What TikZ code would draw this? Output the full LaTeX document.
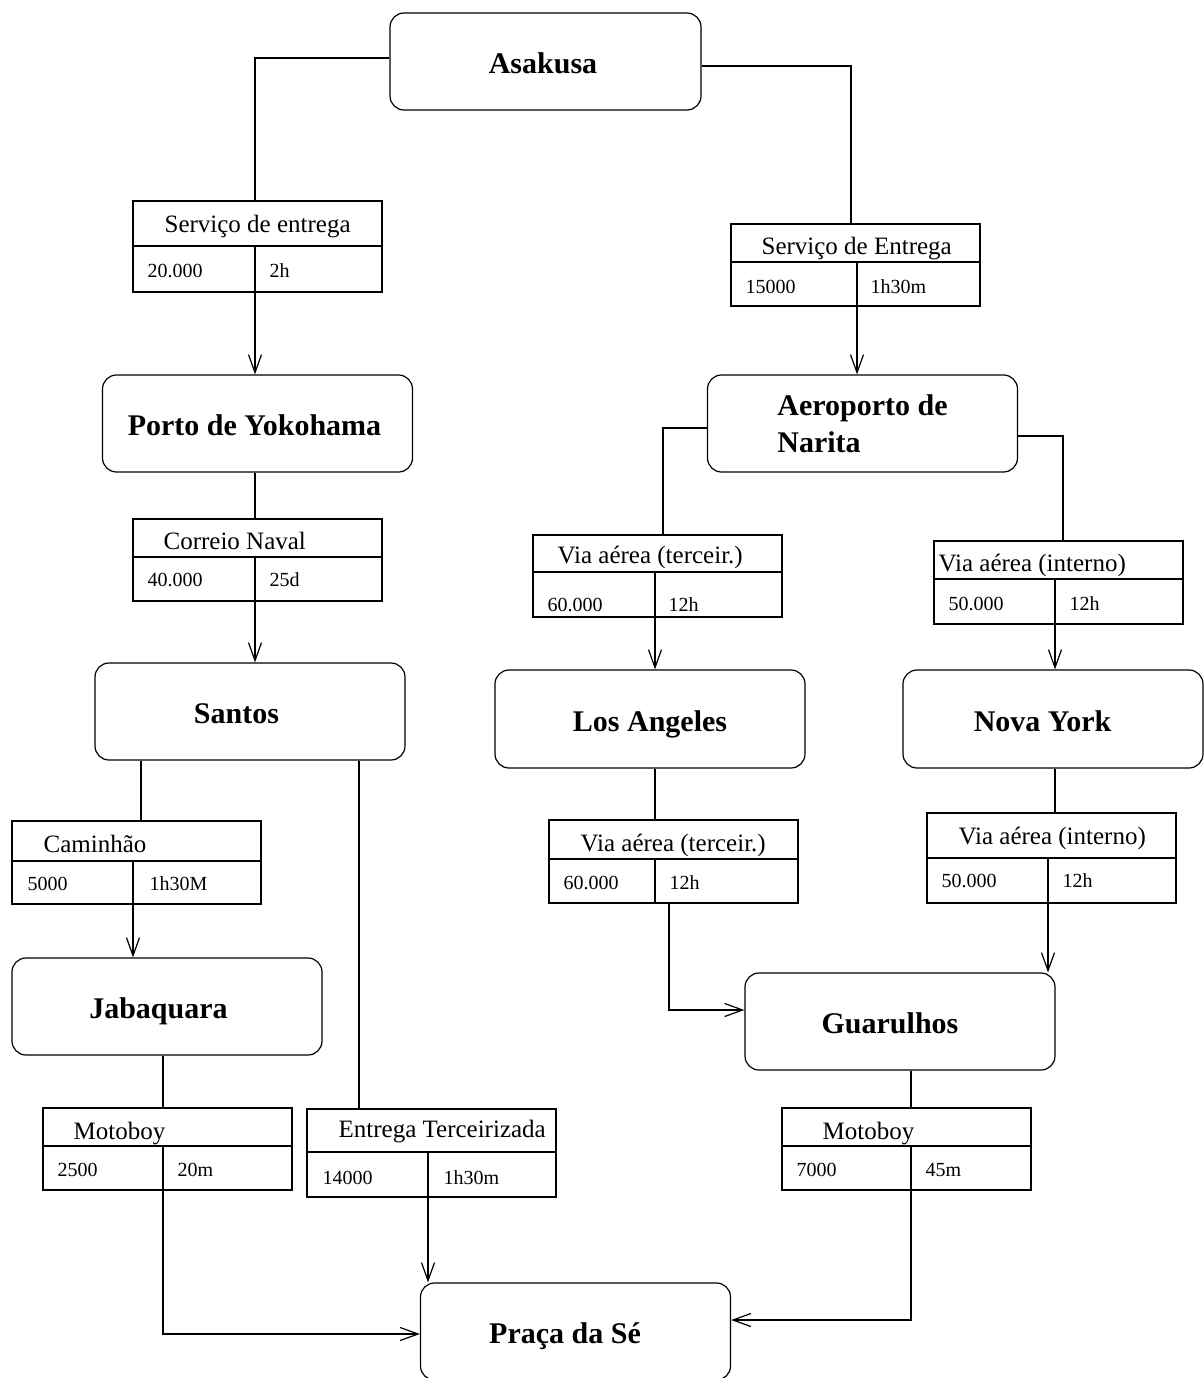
\documentclass[tikz,border=0pt]{standalone}
\usepackage{fontspec}
\setmainfont{Liberation Serif}
\usetikzlibrary{arrows.meta,calc}

\tikzset{
  place/.style={draw, rounded corners=14pt, minimum width=310pt, minimum height=97pt,
    inner sep=0pt, font=\bfseries\fontsize{30}{37}\selectfont, text height=24pt, text depth=0pt},
  tabbox/.style={draw, minimum width=249pt, inner sep=0pt},
  headtxt/.style={anchor=base west, inner sep=0pt, font=\fontsize{25}{30}\selectfont},
  valtxt/.style={anchor=base west, inner sep=0pt, font=\fontsize{20}{24}\selectfont},
  flow/.style={-{Straight Barb[length=18pt,width=13pt]}},
}

% box of a delivery leg: name, left, top, split, bottom, divider
\newcommand{\legbox}[6]{%
  \pgfmathsetmacro\legcx{#2+124.5}%
  \pgfmathsetmacro\legcy{(#3+#5)/2}%
  \pgfmathsetmacro\legh{#5-#3}%
  \node[tabbox, minimum height=\legh pt] (#1) at (\legcx,\legcy) {};
  \draw (#2,#4) -- (#2+249,#4);
  \draw (#6,#4) -- (#6,#5);
}

\begin{document}
\begin{tikzpicture}[x=1pt, y=-1pt, line width=1.2pt]
\useasboundingbox (0,0) rectangle (1204,1378);
\clip (0,0) rectangle (1204,1378);

% places
\node[place, minimum width=311pt] (asakusa) at (545.5,61.5) {\kern-5pt Asakusa};
\node[place] (porto) at (257.5,423.5) {\kern-6pt Porto de Yokohama};
\node[place, align=left, text height=57pt] (narita) at (862.5,423.5) {Aeroporto de\\Narita};
\node[place] (santos) at (250,711.5) {\kern-27pt Santos};
\node[place, minimum height=98pt] (la) at (650,719) {Los Angeles};
\node[place, minimum width=300pt, minimum height=98pt] (ny) at (1053,719) {\kern-21pt Nova York};
\node[place] (jab) at (167,1006.5) {\kern-17pt Jabaquara};
\node[place] (gua) at (900,1021.5) {\kern-20pt Guarulhos};
\node[place] (praca) at (575.5,1331.5) {\kern-21pt Praça da Sé};

% delivery legs
\legbox{t1}{133}{201}{246}{292}{255}
\node[headtxt] (t1-head) at (164,232) {Serviço de entrega};
\node[valtxt] (t1-cost) at (147,277) {20.000};
\node[valtxt] (t1-time) at (269,277) {2h};

\legbox{t2}{731}{224}{262}{306}{857}
\node[headtxt] (t2-head) at (761,254) {Serviço de Entrega};
\node[valtxt] (t2-cost) at (745,293) {15000};
\node[valtxt] (t2-time) at (870,293) {1h30m};

\legbox{t3}{133}{519}{557}{601}{255}
\node[headtxt] (t3-head) at (163,549) {Correio Naval};
\node[valtxt] (t3-cost) at (147,586) {40.000};
\node[valtxt] (t3-time) at (269,586) {25d};

\legbox{t4}{533}{535}{572}{617}{655}
\node[headtxt] (t4-head) at (557,563) {Via aérea (terceir.)};
\node[valtxt] (t4-cost) at (547,611) {60.000};
\node[valtxt] (t4-time) at (668,611) {12h};

\legbox{t5}{934}{541}{579}{624}{1055}
\node[headtxt] (t5-head) at (938,571) {Via aérea (interno)};
\node[valtxt] (t5-cost) at (948,610) {50.000};
\node[valtxt] (t5-time) at (1069,610) {12h};

\legbox{t6}{12}{821}{861}{904}{133}
\node[headtxt] (t6-head) at (43,852) {Caminhão};
\node[valtxt] (t6-cost) at (27,890) {5000};
\node[valtxt] (t6-time) at (149,890) {1h30M};

\legbox{t7}{549}{820}{859}{903}{655}
\node[headtxt] (t7-head) at (580,851) {Via aérea (terceir.)};
\node[valtxt] (t7-cost) at (563,889) {60.000};
\node[valtxt] (t7-time) at (669,889) {12h};

\legbox{t8}{927}{813}{858}{903}{1048}
\node[headtxt] (t8-head) at (958,844) {Via aérea (interno)};
\node[valtxt] (t8-cost) at (941,887) {50.000};
\node[valtxt] (t8-time) at (1062,887) {12h};

\legbox{t9}{43}{1108}{1146}{1190}{163}
\node[headtxt] (t9-head) at (73,1139) {Motoboy};
\node[valtxt] (t9-cost) at (57,1176) {2500};
\node[valtxt] (t9-time) at (177,1176) {20m};

\legbox{t10}{307}{1109}{1152}{1197}{428}
\node[headtxt] (t10-head) at (338,1137) {Entrega Terceirizada};
\node[valtxt] (t10-cost) at (322,1184) {14000};
\node[valtxt] (t10-time) at (443,1184) {1h30m};

\legbox{t11}{782}{1108}{1146}{1190}{911}
\node[headtxt] (t11-head) at (822,1139) {Motoboy};
\node[valtxt] (t11-cost) at (796,1176) {7000};
\node[valtxt] (t11-time) at (925,1176) {45m};

% connections
\draw ($(asakusa.west)+(0,-3.5)$) -| ($(t1.north)+(-2.5,0)$);
\draw[flow] ($(t1.south)+(-2.5,0)$) -- ($(porto.north)+(-2.5,0)$);
\draw ($(asakusa.east)+(0,4.5)$) -| ($(t2.north)+(-4.5,0)$);
\draw[flow] ($(t2.south)+(1.5,0)$) -- ($(narita.north)+(-5.5,0)$);

\draw ($(porto.south)+(-2.5,0)$) -- ($(t3.north)+(-2.5,0)$);
\draw[flow] ($(t3.south)+(-2.5,0)$) -- ($(santos.north)+(5,0)$);

\draw ($(narita.west)+(0,4.5)$) -| ($(t4.north)+(5.5,0)$);
\draw[flow] ($(t4.south)+(-2.5,0)$) -- ($(la.north)+(5,0)$);
\draw ($(narita.east)+(0,12.5)$) -| ($(t5.north)+(4.5,0)$);
\draw[flow] ($(t5.south)+(-3.5,0)$) -- ($(ny.north)+(2,0)$);

\draw ($(santos.south)+(-109,0)$) -- ($(t6.north)+(4.5,0)$);
\draw[flow] ($(t6.south)+(-3.5,0)$) -- ($(jab.north)+(-34,0)$);
\draw ($(santos.south)+(109,0)$) -- ($(t10.north)+(-72.5,0)$);
\draw[flow] ($(t10.south)+(-3.5,0)$) -- ($(praca.north)+(-147.5,0)$);

\draw ($(la.south)+(5,0)$) -- ($(t7.north)+(-18.5,0)$);
\draw[flow] ($(t7.south)+(-4.5,0)$) |- ($(gua.west)+(0,-11.5)$);
\draw ($(ny.south)+(2,0)$) -- ($(t8.north)+(3.5,0)$);
\draw[flow] ($(t8.south)+(-3.5,0)$) -- ($(gua.north)+(148,0)$);

\draw ($(jab.south)+(-4,0)$) -- ($(t9.north)+(-4.5,0)$);
\draw[flow] ($(t9.south)+(-4.5,0)$) |- ($(praca.west)+(0,2.5)$);
\draw ($(gua.south)+(11,0)$) -- ($(t11.north)+(4.5,0)$);
\draw[flow] ($(t11.south)+(4.5,0)$) |- ($(praca.east)+(0,-11.5)$);
\end{tikzpicture}
\end{document}
